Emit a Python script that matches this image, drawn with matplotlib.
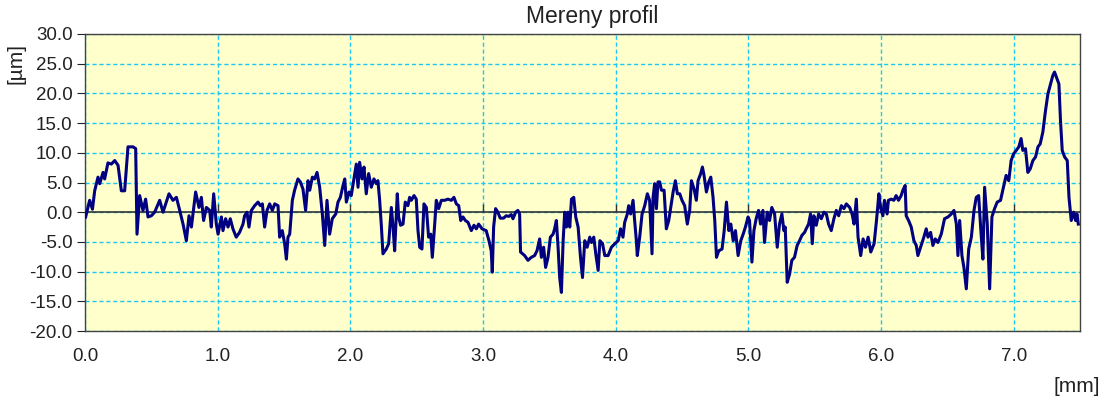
import matplotlib.pyplot as plt

plt.rcParams['font.family'] = ['Liberation Sans', 'DejaVu Sans']
plt.rcParams['axes.unicode_minus'] = False

# profile: position [mm] and height [um]
x_mm = [
    0.005, 0.035, 0.056, 0.073, 0.098, 0.111, 0.136, 0.148, 0.173, 0.199,
    0.224, 0.249, 0.274, 0.299, 0.324, 0.362, 0.382, 0.392, 0.412, 0.437,
    0.457, 0.475, 0.500, 0.525, 0.563, 0.588, 0.633, 0.663, 0.689, 0.714,
    0.739, 0.764, 0.784, 0.802, 0.834, 0.859, 0.877, 0.894, 0.915, 0.940,
    0.952, 0.970, 0.990,
    1.003, 1.028, 1.040, 1.060, 1.078, 1.095, 1.115, 1.140, 1.165, 1.191,
    1.203, 1.221, 1.236, 1.254, 1.279, 1.304, 1.322, 1.337, 1.354, 1.372,
    1.392, 1.412, 1.430, 1.455, 1.467, 1.487, 1.505, 1.518, 1.530, 1.543,
    1.563, 1.580, 1.605, 1.623, 1.643, 1.663, 1.681, 1.694, 1.714, 1.731,
    1.749, 1.769, 1.789, 1.807, 1.824, 1.844, 1.864, 1.890, 1.907, 1.925,
    1.945, 1.958, 1.970, 1.990,
    2.007, 2.027, 2.045, 2.058, 2.070, 2.088, 2.103, 2.120, 2.138, 2.158,
    2.178, 2.196, 2.208, 2.221, 2.233, 2.246, 2.271, 2.289, 2.309, 2.322,
    2.334, 2.354, 2.364, 2.379, 2.397, 2.414, 2.434, 2.447, 2.460, 2.480,
    2.497, 2.510, 2.523, 2.540, 2.555, 2.573, 2.590, 2.606, 2.618, 2.636,
    2.648, 2.666, 2.686, 2.711, 2.736, 2.761, 2.781, 2.799, 2.817, 2.832,
    2.849, 2.867, 2.887, 2.912, 2.932, 2.950, 2.967, 2.993,
    3.024, 3.045, 3.062, 3.070, 3.080, 3.095, 3.112, 3.130, 3.155, 3.175,
    3.195, 3.213, 3.226, 3.246, 3.263, 3.276, 3.283, 3.314, 3.339, 3.364,
    3.389, 3.407, 3.427, 3.440, 3.457, 3.472, 3.490, 3.508, 3.528, 3.540,
    3.553, 3.566, 3.578, 3.591, 3.604, 3.616, 3.629, 3.641, 3.654, 3.667,
    3.684, 3.699, 3.717, 3.735, 3.750, 3.767, 3.785, 3.805, 3.818, 3.835,
    3.850, 3.868, 3.881, 3.901, 3.918, 3.943, 3.968, 3.994, 4.019,
    4.037, 4.055, 4.068, 4.088, 4.098, 4.113, 4.131, 4.143, 4.156, 4.163,
    4.181, 4.199, 4.219, 4.239, 4.256, 4.274, 4.282, 4.294, 4.307, 4.319,
    4.332, 4.345, 4.365, 4.382, 4.400, 4.415, 4.433, 4.450, 4.465, 4.483,
    4.500, 4.520, 4.540, 4.558, 4.571, 4.591, 4.608, 4.621, 4.641, 4.654,
    4.666, 4.684, 4.702, 4.717, 4.734, 4.747, 4.760, 4.777, 4.802, 4.818,
    4.835, 4.853, 4.868, 4.886, 4.903, 4.923, 4.943, 4.961, 4.978, 4.998,
    5.009, 5.027, 5.042, 5.059, 5.077, 5.092, 5.110, 5.122, 5.142, 5.160,
    5.177, 5.198, 5.218, 5.235, 5.253, 5.268, 5.278, 5.293, 5.311, 5.328,
    5.348, 5.368, 5.386, 5.404, 5.424, 5.436, 5.454, 5.469, 5.482, 5.494,
    5.512, 5.530, 5.550, 5.570, 5.588, 5.605, 5.625, 5.645, 5.663, 5.681,
    5.701, 5.721, 5.739, 5.764, 5.782, 5.797, 5.814, 5.827, 5.847, 5.865,
    5.883, 5.903, 5.923, 5.948, 5.966, 5.984,
    5.996, 6.014, 6.026, 6.046, 6.056, 6.077, 6.097, 6.114, 6.132, 6.152,
    6.165, 6.182, 6.190, 6.208, 6.228, 6.248, 6.266, 6.278, 6.303, 6.323,
    6.341, 6.354, 6.374, 6.391, 6.409, 6.429, 6.454, 6.479, 6.505, 6.530,
    6.550, 6.568, 6.580, 6.593, 6.610, 6.625, 6.643, 6.661, 6.681, 6.701,
    6.718, 6.736, 6.751, 6.768, 6.781, 6.801, 6.819, 6.836, 6.856, 6.876,
    6.901,
    6.923, 6.943, 6.963, 6.981, 6.999, 7.019, 7.039, 7.056, 7.069, 7.089,
    7.107, 7.125, 7.145, 7.165, 7.183, 7.200, 7.220, 7.240, 7.258, 7.275,
    7.295, 7.308, 7.326, 7.341, 7.353, 7.366, 7.384, 7.404, 7.417, 7.434,
    7.452, 7.467, 7.477, 7.487,
]
profile_um = [
    -0.8, 2.0, 0.5, 3.6, 5.9, 4.8, 6.7, 5.6, 8.3, 8.1,
    8.7, 7.9, 3.6, 3.6, 11.0, 11.0, 10.7, -3.7, 2.8, 0.3,
    2.2, -0.8, -0.6, 0.0, 2.0, 0.0, 3.1, 2.0, 2.5, 0.3,
    -2.0, -4.8, -0.6, -2.5, 3.4, 0.8, 2.5, -1.4, 0.8, 0.3,
    -2.5, 3.1, -2.0,
    -3.7, -0.8, -3.1, -1.1, -2.5, -1.1, -2.8, -4.2, -3.4, -2.0,
    -0.6, 0.0, -2.5, 0.3, 1.1, 1.7, 1.1, 1.4, -2.5, 0.3,
    1.4, 0.3, 1.4, 1.1, -4.2, -3.1, -5.3, -7.9, -4.2, -3.7,
    2.0, 3.7, 5.6, 5.1, 3.9, 0.3, 5.3, 3.7, 5.9, 5.6,
    6.7, 4.2, -0.3, -5.6, 2.0, -3.7, -1.1, -0.3, 1.7, 2.5,
    4.5, 5.6, 1.7, 3.4,
    2.8, 5.6, 8.1, 4.2, 8.4, 5.6, 7.6, 3.1, 6.5, 4.2,
    5.6, 4.8, 5.3, 2.0, -2.0, -7.0, -6.2, -5.3, 0.8, -2.5,
    -6.5, 3.1, -0.8, -2.2, -2.0, 1.7, 1.1, 2.5, 2.0, 2.8,
    2.2, -3.1, -5.9, -6.2, 1.4, 0.8, -4.2, -3.7, -7.6, -2.0,
    2.0, 0.6, 2.0, 2.0, 2.2, 2.0, 2.5, 1.4, 1.1, -1.4,
    -0.8, -1.4, -1.7, -3.1, -2.2, -2.8, -2.0, -2.8,
    -3.1, -4.8, -6.5, -10.1, -2.5, 0.6, 0.0, -1.0, -1.0, -0.6,
    -0.7, -0.4, -1.1, 0.0, 0.3, -0.3, -6.7, -7.3, -8.1, -7.6,
    -7.3, -6.5, -4.5, -7.6, -5.9, -9.3, -7.6, -4.2, -3.7, -2.8,
    -1.4, -5.9, -11.0, -13.5, -4.8, 0.0, -2.5, 0.0, -2.5, 2.2,
    2.5, -0.8, -2.5, -7.6, -11.0, -4.8, -5.9, -4.2, -5.1, -4.2,
    -7.0, -9.8, -4.8, -5.3, -7.3, -7.3, -5.9, -5.3, -4.8,
    -2.8, -4.2, -1.7, -0.3, 1.1, -0.3, 2.0, -1.4, -4.8, -7.3,
    -4.2, -0.3, 1.1, 3.1, 2.0, -7.0, 2.5, 4.8, 0.6, 5.1,
    5.1, 3.7, 3.7, -2.8, -1.4, 0.8, 3.4, 5.3, 3.1, 3.1,
    2.0, 1.1, -2.0, 0.3, 5.3, 3.9, 2.0, 5.3, 6.5, 7.6,
    6.2, 3.4, 5.1, 5.9, 2.5, -1.4, -7.6, -6.5, -6.2, -3.1,
    1.7, -3.1, -2.0, -4.8, -3.1, -7.3, -4.8, -3.7, -2.5, -0.8,
    -1.4, -8.4, -3.1, -1.1, 0.3, -2.0, 0.3, -5.1, 0.0, -1.4,
    0.8, -0.3, -5.9, -2.0, -0.3, -3.1, -2.5, -11.8, -10.4, -8.1,
    -7.6, -5.6, -4.8, -3.9, -3.4, -2.8, -2.0, -0.3, -5.3, -0.6,
    -2.2, -0.3, -1.1, 0.0, -0.3, -2.0, -3.1, -1.1, 0.3, -0.6,
    1.1, 0.6, 1.4, 0.8, -0.3, -2.0, 2.2, -4.2, -7.3, -4.5,
    -5.9, -4.2, -6.7, -5.3, -1.4, 3.1,
    0.8, -0.6, 2.0, -0.3, 2.0, 2.2, 2.0, 2.8, 2.0, 2.8,
    3.7, 4.5, -0.6, -1.4, -2.5, -4.8, -5.6, -7.3, -5.6, -4.2,
    -2.8, -4.2, -3.4, -5.6, -4.5, -5.1, -3.7, -1.1, -0.8, -0.3,
    0.3, -2.0, -7.3, -1.4, -7.3, -9.3, -12.9, -6.2, -4.2, 0.3,
    2.5, 2.8, -2.5, -7.9, 4.2, -2.0, -12.9, -0.8, 0.6, 1.7,
    2.0,
    4.2, 6.2, 5.3, 8.7, 9.8, 10.4, 11.0, 12.4, 10.4, 10.7,
    6.7, 7.3, 8.7, 9.3, 11.0, 11.5, 13.5, 17.1, 19.9, 21.3,
    23.0, 23.6, 22.5, 21.6, 15.4, 10.4, 9.3, 8.7, 2.5, -1.4,
    0.0, -1.4, -0.3, -2.0,
]

x_ticks = [0, 1, 2, 3, 4, 5, 6, 7]
y_ticks = [-20, -15, -10, -5, 0, 5, 10, 15, 20, 25, 30]

fig = plt.figure(figsize=(11.11, 4.08), dpi=100)
ax = fig.add_axes([85 / 1111, 77 / 408, 995 / 1111, 297 / 408])
ax.set_facecolor('#ffffcc')

ax.grid(True, color='#1cc8f2', linestyle=(0, (3, 2)), linewidth=1)
ax.axhline(0, color='#333333', linewidth=1.2, zorder=2)
ax.plot(x_ticks, [0] * len(x_ticks), linestyle='none', marker=2,
        markersize=6, color='#333333', zorder=2)
ax.plot(x_mm, profile_um, color='#000080', linewidth=2.2, zorder=3)

ax.set_xlim(0, 7.5)
ax.set_ylim(-20, 30)
ax.set_xticks(x_ticks)
ax.set_yticks(y_ticks)
ax.set_xticklabels(['%.1f' % v for v in x_ticks])
ax.set_yticklabels(['%.1f' % v for v in y_ticks])
ax.tick_params(axis='x', length=0, pad=12, labelsize=13.5, colors='#222222')
ax.tick_params(axis='y', direction='out', length=6, pad=3, labelsize=13.5,
               colors='#222222')
for s in ax.spines.values():
    s.set_color('#444444')
    s.set_linewidth(1)

fig.text(592 / 1111, 1 - 16 / 408, 'Mereny profil', ha='center', va='center',
         fontsize=16.5, color='#222222')
fig.text(16 / 1111, 1 - 63 / 408, '[µm]', ha='center', va='center',
         rotation=90, fontsize=15, color='#222222')
fig.text(1077 / 1111, 1 - 386 / 408, '[mm]', ha='center', va='center',
         fontsize=15, color='#222222')

fig.savefig('out.png', dpi=100, facecolor='white')
